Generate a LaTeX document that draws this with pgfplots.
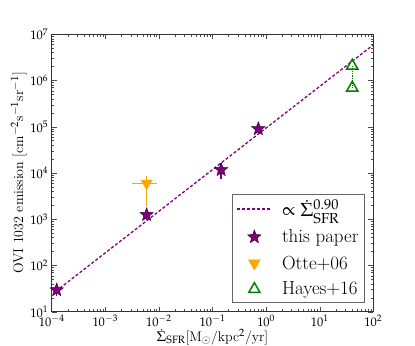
\documentclass[border=0pt]{standalone}
\usepackage{mathpazo}
\usepackage{pgfplots}
\pgfplotsset{compat=1.18}
\definecolor{mplpurple}{RGB}{128,0,128}
\definecolor{mplorange}{RGB}{255,165,0}
\definecolor{mplgreen}{RGB}{0,128,0}

% filled five-point star, like matplotlib's '*'
\pgfdeclareplotmark{fstar}{%
  \pgfpathmoveto{\pgfpointpolar{90}{\pgfplotmarksize}}%
  \pgfpathlineto{\pgfpointpolar{126}{0.42*\pgfplotmarksize}}%
  \pgfpathlineto{\pgfpointpolar{162}{\pgfplotmarksize}}%
  \pgfpathlineto{\pgfpointpolar{198}{0.42*\pgfplotmarksize}}%
  \pgfpathlineto{\pgfpointpolar{234}{\pgfplotmarksize}}%
  \pgfpathlineto{\pgfpointpolar{270}{0.42*\pgfplotmarksize}}%
  \pgfpathlineto{\pgfpointpolar{306}{\pgfplotmarksize}}%
  \pgfpathlineto{\pgfpointpolar{342}{0.42*\pgfplotmarksize}}%
  \pgfpathlineto{\pgfpointpolar{18}{\pgfplotmarksize}}%
  \pgfpathlineto{\pgfpointpolar{54}{0.42*\pgfplotmarksize}}%
  \pgfpathclose
  \pgfusepathqfillstroke
}

\begin{document}
\begin{tikzpicture}
\begin{axis}[
  scale only axis,
  width=321.6bp, height=277.4bp,
  xmode=log, ymode=log,
  xmin=1e-4, xmax=1e2,
  ymin=1e1, ymax=1e7,
  tick align=inside,
  major tick length=5bp, minor tick length=2.5bp,
  every tick/.style={black!70},
  axis line style={black!80, line width=0.8bp},
  tick label style={font=\fontsize{12.5}{14}\selectfont},
  label style={font=\fontsize{14}{16}\selectfont},
  xlabel={$\dot{\Sigma}_{\mathrm{SFR}}$[M$_\odot$/kpc$^2$/yr]},
  ylabel={OVI 1032 emission [cm$^{-2}$s$^{-1}$sr$^{-1}$]},
  xlabel shift=-4.5bp,
  ylabel shift=-3bp,
  legend style={
    at={(0.974,0.032)}, anchor=south east,
    draw=black!60, line width=0.8bp,
    font=\fontsize{19}{22}\selectfont,
    inner xsep=4bp, inner ysep=4bp,
    row sep=7.5bp,
    /tikz/every odd column/.append style={column sep=8bp},
  },
  legend cell align=left,
  legend image code/.code={%
    \draw[mark repeat=2,mark phase=2,#1]
      plot coordinates {(0bp,0bp) (17bp,0bp) (34bp,0bp)};},
]

% power-law fit
\addplot[mplpurple, line width=1.3bp, dash pattern=on 3bp off 2bp]
  coordinates {(1.2e-4,27.8) (100,5.92e6)};
\addlegendentry{$\propto\dot{\Sigma}_{\mathrm{SFR}}^{0.90}$}

% this paper
\addplot[only marks, mark=fstar, mark size=7bp, color=mplpurple,
  mark options={fill=mplpurple, draw=black!60!mplpurple, line width=0.5bp},
  error bars/.cd, x dir=both, x explicit, y dir=both, y explicit,
  error bar style={mplpurple, line width=1.3bp}, error mark=none]
  coordinates {
    (1.24e-4,29.5) += (1.5e-5,11) -= (1.5e-5,8)
    (5.9e-3,1250)  += (5e-4,300)  -= (5e-4,280)
    (0.145,1.17e4) += (1e-2,4.5e3) -= (1e-2,4.4e3)
    (0.716,9.0e4)  += (4e-2,1.6e4) -= (4e-2,1.5e4)
  };
\addlegendentry{this paper}

% Otte+06
\addplot[only marks, mark=triangle*, mark size=6.5bp, color=mplorange,
  mark options={rotate=180, fill=mplorange, draw=mplorange},
  error bars/.cd, x dir=both, x explicit, y dir=both, y explicit,
  error bar style={mplorange, line width=1.4bp}, error mark=none]
  coordinates {
    (5.9e-3,6.0e3) += (3.4e-3,2.7e3) -= (2.7e-3,4.05e3)
  };
\addlegendentry{Otte+06}

% Hayes+16
\addplot[mplgreen, line width=1.3bp, dash pattern=on 1.2bp off 1.2bp, forget plot]
  coordinates {(40.5,2.08e6) (40.5,6.95e5)};
\addplot[only marks, mark=triangle, mark size=6.5bp, color=mplgreen,
  mark options={line width=1.5bp, fill=white}]
  coordinates {(40.5,2.08e6) (40.5,6.95e5)};
\addlegendentry{Hayes+16}

\end{axis}
\pgfresetboundingbox
\path[use as bounding box] (-51.7bp,-34.3bp) rectangle (363.3bp,311.7bp);
\end{tikzpicture}
\end{document}
